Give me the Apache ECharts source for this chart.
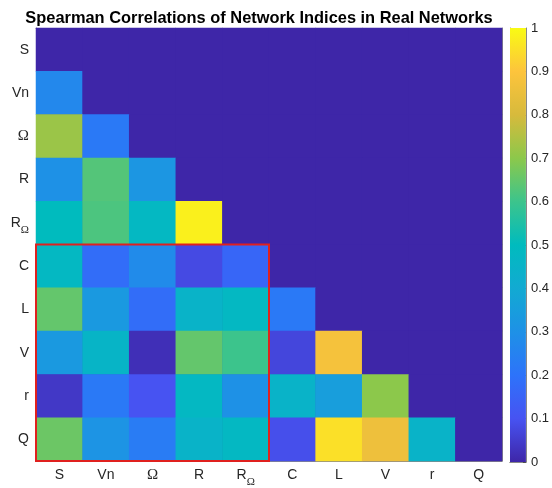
<!DOCTYPE html>
<html><head><meta charset="utf-8">
<script src="https://cdn.jsdelivr.net/npm/echarts@6/dist/echarts.min.js"></script>
<style>html,body{margin:0;padding:0;background:#fff}#c{width:552px;height:488px}</style>
</head><body><div id="c"></div>
<script>
// Categories (same order for rows and columns)
const categories = ['S','Vn','Ω','R','RΩ','C','L','V','r','Q'];
// Lower-triangle Spearman correlations (row i, columns 0..i-1); diagonal & upper triangle = 0
const rowS = [];
const rowVn = [0.27];
const rowOmega = [0.72, 0.22];
const rowR = [0.30, 0.63, 0.32];
const rowROmega = [0.50, 0.62, 0.48, 0.98];
const rowC = [0.48, 0.18, 0.28, 0.08, 0.16];
const rowL = [0.65, 0.33, 0.18, 0.45, 0.48, 0.22];
const rowV = [0.33, 0.46, 0.02, 0.65, 0.60, 0.07, 0.88];
const rowr = [0.04, 0.22, 0.10, 0.48, 0.30, 0.45, 0.35, 0.70];
const rowQ = [0.66, 0.31, 0.23, 0.45, 0.48, 0.09, 0.95, 0.86, 0.45];
// Highlighted block: columns S..RΩ, rows C..Q
const highlight = [[0, 5, 4, 9]];

const rows = [rowS,rowVn,rowOmega,rowR,rowROmega,rowC,rowL,rowV,rowr,rowQ];
const data = [];
for (let i = 0; i < categories.length; i++) {
  for (let j = 0; j < categories.length; j++) {
    data.push([j, i, j < i ? rows[i][j] : 0]);
  }
}
const parula = ['#3e26a8','#4753f2','#2d73fa','#1e91e6','#12aad2','#00bbbe','#3cc48c','#8cc84b','#d7ba3c','#fdc43c','#f9fb14'];

const fmtLabel = v => v === 'Ω' ? '{g|Ω}' : (v === 'RΩ' ? '{n|R}{sub|Ω}' : '{n|' + v + '}');
const rich = {
  n: {fontFamily: 'Liberation Sans, Arial', fontSize: 14, color: '#262626', lineHeight: 26, verticalAlign: 'middle'},
  g: {fontFamily: 'Liberation Serif', fontSize: 15, color: '#262626', lineHeight: 26, verticalAlign: 'middle'},
  sub: {fontFamily: 'Liberation Serif', fontSize: 11, color: '#262626', lineHeight: 26, verticalAlign: 'bottom'}
};
const labelStyle = {color: '#262626', fontSize: 14, lineHeight: 26, interval: 0, formatter: fmtLabel, rich: rich};
const tickStyle = {show: true, inside: true, length: 4, alignWithLabel: true, interval: 0, lineStyle: {color: 'rgba(40,40,40,0.35)'}};
const noSplit = {show: false};
const frame = {show: true, lineStyle: {color: '#888'}};

const chart = echarts.init(document.getElementById('c'));
chart.setOption({
  animation: false,
  title: {text: 'Spearman Correlations of Network Indices in Real Networks', left: 254, textAlign: 'center', top: 5,
    textStyle: {fontSize: 16.4, fontWeight: 'bold', color: '#000', fontFamily: 'Liberation Sans, Arial'}},
  grid: [
    {left: 36, top: 28, width: 466, height: 434, show: true, backgroundColor: parula[0], borderWidth: 0},
    {left: 510, top: 28, width: 17, height: 434}
  ],
  xAxis: [
    {type: 'category', data: categories, gridIndex: 0, position: 'bottom', axisLine: frame,
      axisTick: tickStyle, axisLabel: Object.assign({margin: 1}, labelStyle), splitLine: noSplit, splitArea: noSplit},
    {type: 'category', data: categories, gridIndex: 0, position: 'top', axisLine: frame,
      axisTick: tickStyle, axisLabel: {show: false}, splitLine: noSplit, splitArea: noSplit},
    {type: 'category', data: [''], gridIndex: 1, axisLine: frame, axisTick: {show: false}, axisLabel: {show: false}, splitLine: noSplit},
    {type: 'category', data: [''], gridIndex: 1, position: 'top', axisLine: frame, axisTick: {show: false}, axisLabel: {show: false}, splitLine: noSplit}
  ],
  yAxis: [
    {type: 'category', data: categories, gridIndex: 0, inverse: true, position: 'left', axisLine: frame,
      axisTick: tickStyle, axisLabel: Object.assign({margin: 7}, labelStyle), splitLine: noSplit, splitArea: noSplit},
    {type: 'category', data: categories, gridIndex: 0, inverse: true, position: 'right', axisLine: frame,
      axisTick: tickStyle, axisLabel: {show: false}, splitLine: noSplit, splitArea: noSplit},
    {type: 'value', gridIndex: 1, min: 0, max: 1, interval: 0.1, position: 'right', axisLine: frame,
      axisTick: {show: true, inside: true, length: 3, lineStyle: {color: 'rgba(40,40,40,0.6)'}},
      splitLine: noSplit,
      axisLabel: {color: '#262626', fontSize: 13, margin: 5, fontFamily: 'Liberation Sans, Arial', formatter: v => String(+v.toFixed(1))}},
    {type: 'value', gridIndex: 1, min: 0, max: 1, interval: 0.1, position: 'left', axisLine: frame,
      axisLabel: {show: false}, splitLine: noSplit, axisTick: {show: false}}
  ],
  visualMap: {type: 'continuous', min: 0, max: 1, show: false, seriesIndex: 0, inRange: {color: parula}},
  series: [
    {type: 'heatmap', xAxisIndex: 0, yAxisIndex: 0, data: data, itemStyle: {borderWidth: 0}, emphasis: {disabled: true}},
    {type: 'custom', xAxisIndex: 0, yAxisIndex: 0, data: highlight, z: 10,
      renderItem: (params, api) => {
        const a = api.coord([api.value(0), api.value(1)]);
        const b = api.coord([api.value(2), api.value(3)]);
        const s = api.size([1, 1]);
        return {type: 'rect', shape: {x: a[0] - s[0]/2, y: a[1] - s[1]/2, width: b[0] - a[0] + s[0], height: b[1] - a[1] + s[1]},
          style: {fill: 'none', stroke: '#e0201e', lineWidth: 2}};
      }},
    {type: 'custom', xAxisIndex: 2, yAxisIndex: 2, data: [[0, 0, 1]], z: 1,
      renderItem: (params, api) => {
        const cs = params.coordSys;
        const stops = parula.map((c, k) => ({offset: 1 - k/(parula.length-1), color: c})).reverse();
        return {type: 'rect', shape: {x: cs.x, y: cs.y, width: cs.width, height: cs.height},
          style: {fill: new echarts.graphic.LinearGradient(0, 0, 0, 1, stops)}};
      }}
  ]
});
</script></body></html>
